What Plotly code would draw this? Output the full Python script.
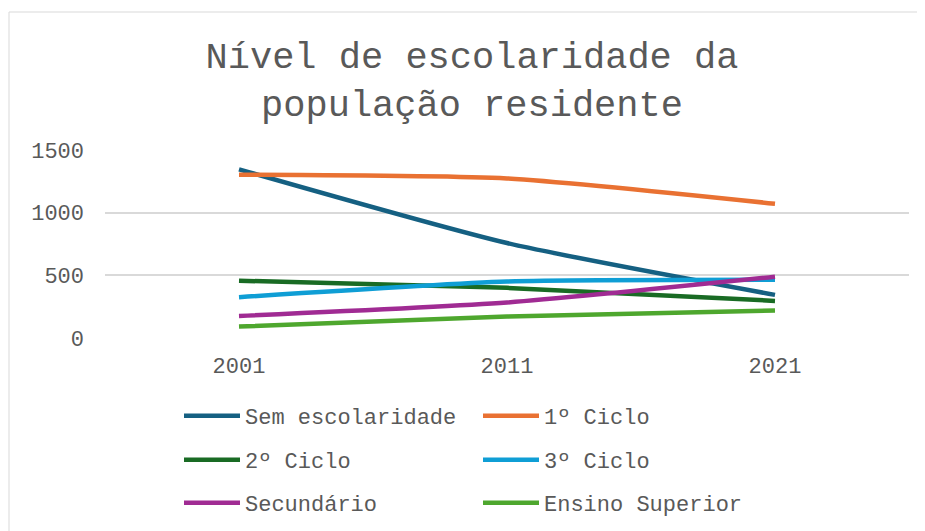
import plotly.graph_objects as go

# data
anos = ["2001", "2011", "2021"]
sem_escolaridade = [1346, 758, 344]
ciclo_1 = [1303, 1273, 1071]
ciclo_2 = [457, 400, 296]
ciclo_3 = [326, 451, 465]
secundario = [176, 283, 489]
ensino_superior = [91, 171, 219]

nomes = ["Sem escolaridade", "1º Ciclo", "2º Ciclo", "3º Ciclo",
         "Secundário", "Ensino Superior"]
series = [sem_escolaridade, ciclo_1, ciclo_2, ciclo_3, secundario, ensino_superior]
cores = ["#156082", "#E97132", "#196B24", "#0F9ED5", "#A02B93", "#4EA72E"]
legendas = ["legend", "legend", "legend2", "legend2", "legend3", "legend3"]

FONTE = "Liberation Mono, Courier New, monospace"
CINZA = "#595959"

fig = go.Figure()
for nome, valores, cor, leg in zip(nomes, series, cores, legendas):
    fig.add_trace(go.Scatter(
        x=anos, y=valores, name=nome, mode="lines",
        line=dict(color=cor, width=4.5, shape="spline", smoothing=0.6),
        legend=leg,
    ))

# the page body adds an 8px offset, so work in screen pixels minus that
OFF = 8
W, H = 925, 531
L, T = 105 - OFF, 150 - OFF
R = W - (909 - OFF)
B = H - (338 - OFF)
pw, ph = W - L - R, H - T - B


def px_x(p):
    return (p - OFF - L) / pw


def px_y(p):
    return (H - B - (p - OFF)) / ph


leg_style = dict(orientation="h", xanchor="left", yanchor="middle",
                 x=px_x(179), entrywidth=228, entrywidthmode="pixels",
                 font=dict(family=FONTE, size=22, color=CINZA),
                 bgcolor="rgba(0,0,0,0)", itemwidth=56)

fig.update_layout(
    width=W, height=H,
    margin=dict(l=L, r=R, t=T, b=B),
    paper_bgcolor="white", plot_bgcolor="white",
    title=dict(text="Nível de escolaridade da<br>população residente",
               x=(472 - OFF) / W, xanchor="center",
               y=1 - (68 - OFF) / H, yanchor="middle",
               font=dict(family=FONTE, size=37, color=CINZA)),
    font=dict(family=FONTE, color=CINZA),
    legend=dict(leg_style, y=px_y(416)),
    legend2=dict(leg_style, y=px_y(460)),
    legend3=dict(leg_style, y=px_y(503)),
    shapes=[dict(type="rect", xref="paper", yref="paper",
                 x0=px_x(9), x1=px_x(940), y0=px_y(545), y1=px_y(12),
                 line=dict(color="#d9d9d9", width=1), layer="below")],
)

fig.update_xaxes(type="category", range=[-0.5, 2.5], showgrid=False,
                 showline=False, zeroline=False, ticks="",
                 ticklabelstandoff=12,
                 tickfont=dict(family=FONTE, size=22, color=CINZA))
fig.update_yaxes(range=[0, 1500], dtick=500, showgrid=True,
                 gridcolor="#d9d9d9", gridwidth=1.5, zeroline=False,
                 showline=False, ticklabelstandoff=20,
                 tickfont=dict(family=FONTE, size=22, color=CINZA))

fig.write_html("out.html")
